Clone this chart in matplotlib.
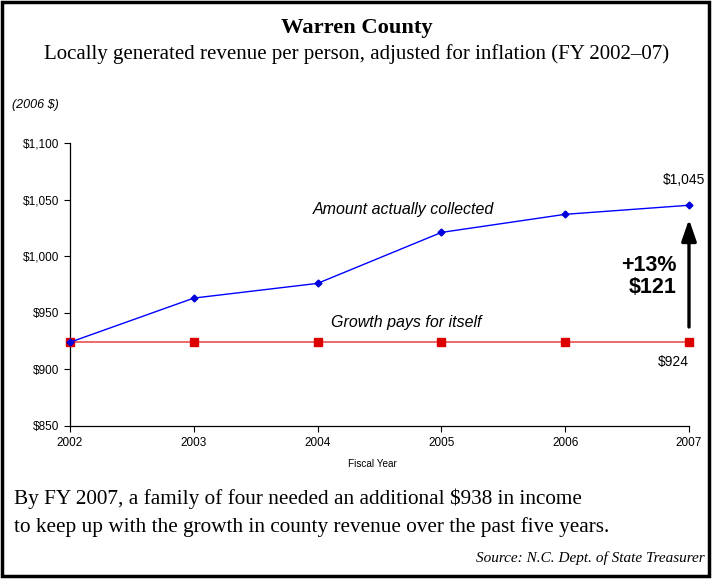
import numpy as np
import matplotlib
matplotlib.use('Agg')
import matplotlib.pyplot as plt
from matplotlib.patches import Rectangle
from matplotlib.ticker import FuncFormatter

# data
years = [2002, 2003, 2004, 2005, 2006, 2007]
collected = [924, 963, 976, 1021, 1037, 1045]
baseline = [924, 924, 924, 924, 924, 924]
yticks = [850, 900, 950, 1000, 1050, 1100]

sans = 'Liberation Sans'
serif = 'Liberation Serif'
plt.rcParams['font.family'] = [sans, 'DejaVu Sans']
plt.rcParams['xtick.labelsize'] = 8.5
plt.rcParams['ytick.labelsize'] = 8.5

fig = plt.figure(figsize=(7.13, 5.79), dpi=100)
W, H = 713.0, 579.0

# axes placed in pixel terms
ax = fig.add_axes([70 / W, (H - 426) / H, (689 - 70) / W, (426 - 143) / H])

ax.plot(years, baseline, color='#e85050', lw=1.2, marker='s', ms=5.5,
        mfc='#dd0000', mec='#dd0000', zorder=3, clip_on=False)
ax.plot(years, collected, color='#0000ff', lw=1.0, marker='D', ms=3.5,
        mfc='#0000dd', mec='#0000dd', zorder=4, clip_on=False)

ax.set_xlim(2002, 2007)
ax.set_ylim(850, 1100)
ax.set_xticks(years)
ax.set_yticks(yticks)
ax.yaxis.set_major_formatter(FuncFormatter(lambda v, p: '${:,.0f}'.format(v)))
ax.tick_params(direction='out', length=4, width=0.8, pad=4)
ax.spines['top'].set_visible(False)
ax.spines['right'].set_visible(False)
ax.spines['left'].set_linewidth(0.9)
ax.spines['bottom'].set_linewidth(0.9)
ax.set_xlabel('Fiscal Year', fontsize=7.2)
ax.xaxis.set_label_coords((372 - 70) / 619.0, -(459 - 426) / 283.0)

# annotations
ax.text(2004.69, 1041, 'Amount actually collected', fontsize=11.5, style='italic',
        ha='center', va='center')
ax.text(2004.72, 941, 'Growth pays for itself', fontsize=11.5, style='italic',
        ha='center', va='center')
ax.text(2006.96, 1067, '${:,}'.format(collected[-1]), fontsize=10,
        ha='center', va='center')
ax.text(2006.87, 906.5, '${:,}'.format(baseline[-1]), fontsize=10,
        ha='center', va='center')
ax.text(2006.9, 982, '+13%\n$121', fontsize=15.5, fontweight='bold',
        ha='right', va='center', linespacing=1.1)
ax.annotate('', xy=(2007, 1035), xytext=(2007, 935),
            arrowprops=dict(arrowstyle='-|>,head_length=1.3,head_width=0.45',
                            color='black', lw=2.4))

# titles and notes
fig.text(0.5, 1 - 28 / H, 'Warren County', fontsize=16.2, fontweight='bold',
         family=serif, ha='center', va='center')
fig.text(0.5, 1 - 54 / H,
         'Locally generated revenue per person, adjusted for inflation (FY 2002\u201307)',
         fontsize=15, family=serif, ha='center', va='center')
fig.text(12 / W, 1 - 105 / H, '(2006 $)', fontsize=9, style='italic',
         ha='left', va='center')
fig.text(14 / W, 1 - 499 / H,
         'By FY 2007, a family of four needed an additional $938 in income',
         fontsize=15.3, family=serif, ha='left', va='center')
fig.text(14 / W, 1 - 527 / H,
         'to keep up with the growth in county revenue over the past five years.',
         fontsize=15.3, family=serif, ha='left', va='center')
fig.text(705 / W, 1 - 558 / H, 'Source: N.C. Dept. of State Treasurer',
         fontsize=11, style='italic', family=serif, ha='right', va='center')

# border around the figure
fig.patches.append(Rectangle((2 / W, 3 / H), 707 / W, 574 / H, transform=fig.transFigure,
                             fill=False, edgecolor='black', lw=2.5))

fig.savefig('out.png', dpi=100)
